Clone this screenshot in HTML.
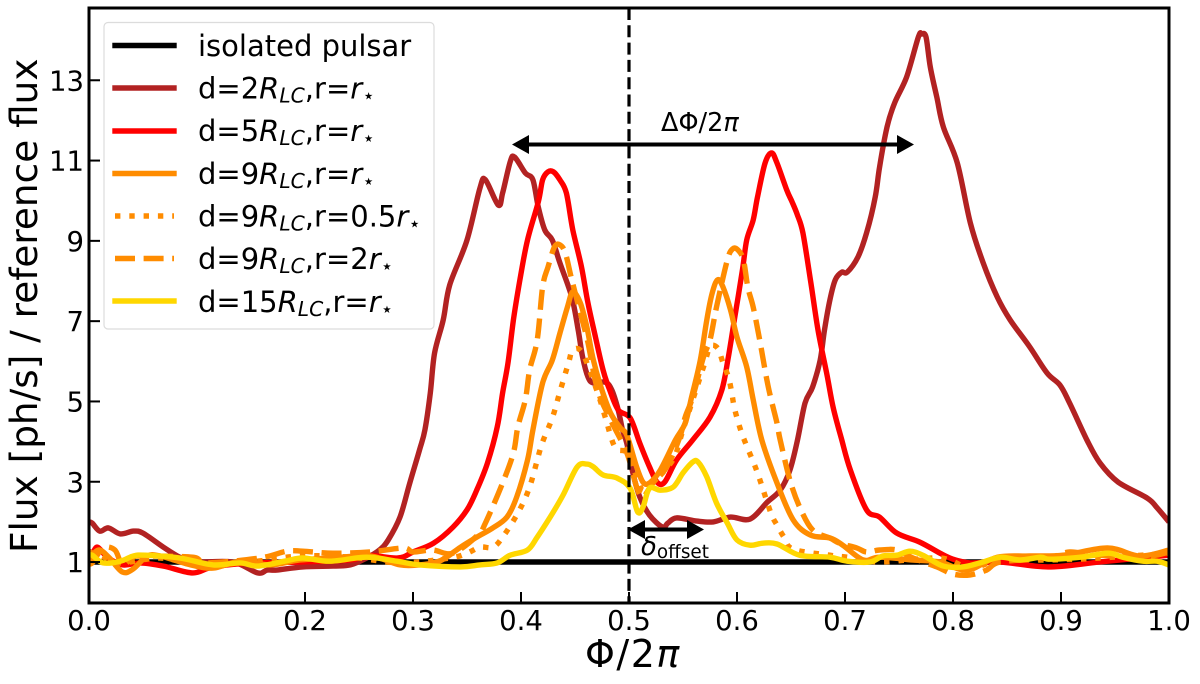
<!DOCTYPE html>
<html>
<head>
<meta charset="utf-8">
<title>Flux vs phase</title>
<style>
html,body{margin:0;padding:0;background:#fff;width:1200px;height:684px;overflow:hidden}
svg{display:block}
text{font-family:"DejaVu Sans","Liberation Sans",sans-serif;fill:#000}
.it{font-style:italic}
</style>
</head>
<body>
<svg id="chart" width="1200" height="684" viewBox="0 0 1200 684" xmlns="http://www.w3.org/2000/svg">
<defs><clipPath id="plot-clip"><rect x="89" y="8" width="1080" height="595"/></clipPath></defs>
<g id="series" clip-path="url(#plot-clip)"></g>
<g id="guides"></g>
<g id="ticks"></g>
<rect x="89" y="8" width="1080" height="595" fill="none" stroke="#000" stroke-width="3"/>

<g>
<line x1="525" y1="144.500" x2="900" y2="144.500" stroke="#000" stroke-width="4"/>
<polygon points="512,144.500 529,135 529,154" fill="#000"/>
<polygon points="914,144.500 897,135 897,154" fill="#000"/>
<text x="661" y="131" font-size="25.500">ΔΦ/2<tspan class="it">π</tspan></text>
</g>
<g>
<line x1="640" y1="529.500" x2="692" y2="529.500" stroke="#000" stroke-width="4"/>
<polygon points="628,529.500 645,520 645,539" fill="#000"/>
<polygon points="704,529.500 687,520 687,539" fill="#000"/>
<text x="641" y="555" font-size="26"><tspan class="it">δ</tspan><tspan font-size="18.400" dy="3">offset</tspan></text>
</g>

<text transform="translate(37,553) rotate(-90)" font-size="37.400">Flux [ph/s] / reference flux</text>
<text x="585" y="667" font-size="38" letter-spacing="1.500">Φ/2<tspan class="it">π</tspan></text>

<g>
<rect x="104" y="22.500" width="330" height="306.500" rx="4" ry="4" fill="#fff" fill-opacity="0.8" stroke="#dcdcdc" stroke-width="1.200"/>
<g>
<line x1="115" y1="45.500" x2="174" y2="45.500" stroke="#000" stroke-width="5.400" stroke-linecap="square"/>
<text x="198" y="56" font-size="29">isolated pulsar</text>
</g>
<g>
<line x1="115" y1="88" x2="174" y2="88" stroke="#b22222" stroke-width="5.400" stroke-linecap="square"/>
<text x="198" y="98.500" font-size="29">d=2<tspan class="it">R</tspan><tspan class="it" font-size="20.300" dy="4">LC</tspan><tspan dy="-4">,r=</tspan><tspan class="it">r</tspan><tspan font-size="20.300" dy="4">⋆</tspan></text>
</g>
<g>
<line x1="115" y1="131" x2="174" y2="131" stroke="#ff0000" stroke-width="5.400" stroke-linecap="square"/>
<text x="198" y="141" font-size="29">d=5<tspan class="it">R</tspan><tspan class="it" font-size="20.300" dy="4">LC</tspan><tspan dy="-4">,r=</tspan><tspan class="it">r</tspan><tspan font-size="20.300" dy="4">⋆</tspan></text>
</g>
<g>
<line x1="115" y1="173.500" x2="174" y2="173.500" stroke="#ff8c00" stroke-width="5.400" stroke-linecap="square"/>
<text x="198" y="184" font-size="29">d=9<tspan class="it">R</tspan><tspan class="it" font-size="20.300" dy="4">LC</tspan><tspan dy="-4">,r=</tspan><tspan class="it">r</tspan><tspan font-size="20.300" dy="4">⋆</tspan></text>
</g>
<g>
<line x1="115" y1="216" x2="174" y2="216" stroke="#ff8c00" stroke-width="5.400" stroke-dasharray="5.400 8.900"/>
<text x="198" y="226.500" font-size="29">d=9<tspan class="it">R</tspan><tspan class="it" font-size="20.300" dy="4">LC</tspan><tspan dy="-4">,r=0.5</tspan><tspan class="it">r</tspan><tspan font-size="20.300" dy="4">⋆</tspan></text>
</g>
<g>
<line x1="115" y1="258.500" x2="174" y2="258.500" stroke="#ff8c00" stroke-width="5.400" stroke-dasharray="20 8.600"/>
<text x="198" y="269" font-size="29">d=9<tspan class="it">R</tspan><tspan class="it" font-size="20.300" dy="4">LC</tspan><tspan dy="-4">,r=2</tspan><tspan class="it">r</tspan><tspan font-size="20.300" dy="4">⋆</tspan></text>
</g>
<g>
<line x1="115" y1="301" x2="174" y2="301" stroke="#ffd700" stroke-width="5.400" stroke-linecap="square"/>
<text x="198" y="312" font-size="29">d=15<tspan class="it">R</tspan><tspan class="it" font-size="20.300" dy="4">LC</tspan><tspan dy="-4">,r=</tspan><tspan class="it">r</tspan><tspan font-size="20.300" dy="4">⋆</tspan></text>
</g>
</g>
</svg>
<script>
const xTickValues = [0, 0.2, 0.3, 0.4, 0.5, 0.6, 0.7, 0.8, 0.9, 1.0];
const xTickLabels = ["0.0", "0.2", "0.3", "0.4", "0.5", "0.6", "0.7", "0.8", "0.9", "1.0"];
const yTickValues = [1, 3, 5, 7, 9, 11, 13];
const yTickLabels = ["1", "3", "5", "7", "9", "11", "13"];
const xDomain = [0, 1];
const yDomain = [-0.02, 14.8];
const referencePhase = [0.5];

const isolatedPhase = [0, 1];
const isolatedFlux = [1, 1];

const d2Phase = [0,.003,.01,.018,.029,.041,.05,.069,.084,.096,.133,.156,.165,.174,.198,.226,.242,.257,.269,.277,.288,.297,.306,.311,.316,.32,.328,.334,.35,.362,.367,.379,.383,.39,.394,.404,.411,.416,.422,.429,.436,.447,.453,.457,.462,.467,.478,.484,.49,.494,.498,.504,.51,.519,.531,.536,.544,.563,.578,.594,.612,.628,.64,.649,.656,.663,.67,.677,.681,.686,.691,.697,.702,.712,.72,.728,.732,.739,.746,.757,.768,.771,.775,.779,.785,.791,.804,.816,.828,.841,.853,.871,.887,.899,.908,.924,.936,.953,.98,.989,1];
const d2Flux = [2.0,1.97,1.77,1.85,1.70,1.77,1.72,1.37,1.12,1.0,1.0,.73,.8,.8,.88,.9,.93,1.1,1.3,1.55,2.12,2.97,3.79,4.29,5.21,6.21,7.03,7.9,9.02,10.32,10.52,9.89,10.19,10.97,11.09,10.69,10.52,9.84,9.27,9.02,8.45,7.6,6.78,6.11,5.61,5.46,5.48,5.29,4.79,4.29,3.96,3.17,2.62,2.17,1.87,1.97,2.1,2.02,2,2.12,2.07,2.49,2.79,3.29,4.04,4.96,5.36,6.03,6.78,7.53,8.03,8.22,8.22,8.6,9.2,10.09,10.84,11.84,12.44,13.08,14.08,14.15,14.08,13.33,12.58,11.84,10.94,9.45,8.45,7.6,7.03,6.36,5.71,5.41,4.96,4.04,3.47,2.99,2.59,2.35,2.0];

const d5Phase = [0,.003,.008,.017,.031,.047,.069,.096,.115,.152,.195,.242,.257,.286,.3,.319,.337,.35,.359,.369,.378,.383,.388,.393,.399,.406,.416,.42,.425,.43,.436,.442,.448,.456,.462,.469,.476,.482,.49,.501,.51,.519,.526,.533,.544,.559,.575,.586,.592,.598,.605,.609,.615,.619,.626,.632,.637,.646,.651,.656,.661,.668,.675,.683,.689,.697,.705,.72,.732,.748,.769,.788,.8,.816,.844,.888,.936,1];
const d5Flux = [1.27,1.22,1.37,1.12,.93,.98,.9,.73,.88,.98,1,1.05,1.17,1.1,1.25,1.47,1.87,2.3,2.79,3.47,4.36,5.21,5.96,7.03,8.03,9.02,9.97,10.52,10.72,10.72,10.52,10.19,9.27,8.35,7.45,6.6,5.78,5.29,4.79,4.59,3.96,3.37,2.99,2.99,3.54,4.04,4.61,5.29,6.11,7.1,8.27,9.02,9.52,10.09,10.94,11.19,10.94,10.27,9.97,9.64,9.2,8.03,6.78,5.71,4.86,4.04,3.29,2.3,2.12,1.72,1.5,1.22,1.07,.98,1,.88,1,1.17];

const d9Phase = [0,.003,.01,.019,.031,.041,.054,.066,.094,.115,.14,.168,.195,.223,.26,.288,.306,.322,.331,.344,.359,.374,.387,.396,.406,.411,.42,.429,.436,.443,.448,.455,.461,.467,.475,.483,.492,.498,.507,.513,.519,.529,.543,.552,.558,.566,.572,.577,.582,.587,.594,.6,.609,.615,.623,.637,.652,.668,.686,.698,.717,.732,.763,.788,.813,.841,.871,.902,.943,.973,1];
const d9Flux = [1,1.17,1.3,1.1,.75,.83,1.15,1.15,.93,.85,1.02,.93,1.05,1.1,1.15,.93,.93,1,1.12,1.37,1.62,1.85,2.12,2.62,3.54,4.29,5.46,6.03,6.7,7.35,7.73,7.45,6.85,6.03,5.28,4.71,4.34,4.16,3.37,2.99,2.97,3.29,4.04,4.46,5.11,6.03,7.03,7.7,8.03,7.85,7.28,6.6,5.86,5.04,4.04,2.97,2.05,1.67,1.6,1.42,1.05,1.12,1.05,1,.8,1.12,1.15,1.17,1.35,1.15,1.3];

const d9SmallPhase = [0,.01,.029,.066,.103,.149,.195,.242,.288,.334,.35,.362,.374,.383,.397,.408,.419,.429,.436,.444,.448,.457,.471,.478,.487,.498,.507,.513,.522,.535,.543,.55,.569,.575,.582,.587,.592,.595,.597,.6,.604,.609,.619,.631,.637,.644,.652,.686,.702,.732,.788,.816,.844,.89,.936,1];
const d9SmallFlux = [1.25,1.17,.98,1.1,.93,1,1.15,1.12,.98,1.1,1.22,1.37,1.37,1.62,2.22,2.87,3.91,4.59,5.24,5.96,6.28,6.2,5.21,4.61,3.86,3.72,3.12,2.79,2.97,3.34,3.67,4.29,5.86,6.36,6.33,5.96,5.61,5.24,4.91,4.59,4.24,3.89,3.22,2.25,1.92,1.6,1.32,1.17,1.12,1,1.1,.85,1.05,1.05,1.1,1.22];

const d9LargePhase = [0,.003,.013,.024,.031,.041,.05,.096,.109,.158,.183,.198,.226,.26,.291,.3,.318,.337,.36,.367,.383,.393,.397,.404,.408,.415,.42,.425,.431,.436,.441,.447,.455,.462,.471,.483,.498,.507,.513,.522,.535,.547,.552,.559,.569,.575,.581,.591,.596,.601,.606,.61,.615,.621,.629,.637,.64,.649,.658,.67,.686,.695,.711,.72,.732,.748,.763,.785,.8,.816,.831,.844,.887,.908,.933,.98,1];
const d9LargeFlux = [.98,.98,1.35,1.3,.93,1.12,1.15,1.12,.98,1.1,1.27,1.27,1.22,1.25,1.35,1.25,1.3,1.22,1.67,1.97,2.97,3.72,4.36,5.04,5.78,6.53,7.85,8.35,8.85,8.9,8.7,8.03,7.2,6.46,5.28,4.54,3.72,2.87,2.62,2.97,3.37,4.11,4.61,5.11,6.11,6.53,7.35,8.52,8.8,8.77,8.52,7.85,7.35,6.53,5.36,4.46,4.04,3.04,2.37,1.8,1.6,1.47,1.35,1.25,1.3,1.3,1.1,.88,.7,.68,.8,1,1.1,1.25,1.17,1.15,1.25];

const d15Phase = [0,.003,.013,.029,.041,.052,.084,.115,.14,.156,.181,.198,.223,.257,.285,.306,.344,.362,.378,.39,.406,.415,.427,.439,.452,.461,.467,.476,.489,.501,.508,.513,.519,.529,.541,.55,.559,.564,.572,.581,.591,.6,.612,.624,.637,.658,.686,.702,.723,.735,.748,.76,.772,.791,.809,.825,.844,.862,.881,.89,.918,.944,.957,.976,.989,1];
const d15Flux = [1.17,1.17,.98,1.02,1.15,1.17,1.1,.93,.98,.9,1.02,1.1,1.02,1.12,1.02,.93,.88,.93,.98,1.17,1.3,1.62,2.12,2.67,3.37,3.44,3.37,3.17,3.09,2.84,2.25,2.37,2.84,2.79,2.87,3.22,3.49,3.49,3.12,2.47,1.97,1.55,1.42,1.47,1.45,1.17,1.12,1.02,1,1.15,1.17,1.27,1.17,.9,.88,.98,1.12,1.05,1.12,1.07,1.12,1.22,1.12,1.02,1.02,.93];

const plotLeft = 89, plotRight = 1169, plotTop = 8, plotBottom = 603;
const NS = 'http://www.w3.org/2000/svg';

function xScale(v) {
  return plotLeft + (v - xDomain[0]) / (xDomain[1] - xDomain[0]) * (plotRight - plotLeft);
}
function yScale(v) {
  return plotBottom - (v - yDomain[0]) / (yDomain[1] - yDomain[0]) * (plotBottom - plotTop);
}
function smoothPath(xs, ys) {
  const p = xs.map(function (x, i) { return [xScale(x), yScale(ys[i])]; });
  let d = 'M' + p[0][0].toFixed(1) + ' ' + p[0][1].toFixed(1);
  for (let i = 0; i < p.length - 1; i++) {
    const a = p[Math.max(i - 1, 0)], b = p[i], c = p[i + 1], e = p[Math.min(i + 2, p.length - 1)];
    const c1x = b[0] + (c[0] - a[0]) / 6, c1y = b[1] + (c[1] - a[1]) / 6;
    const c2x = c[0] - (e[0] - b[0]) / 6, c2y = c[1] - (e[1] - b[1]) / 6;
    d += 'C' + c1x.toFixed(1) + ' ' + c1y.toFixed(1) + ' ' + c2x.toFixed(1) + ' ' + c2y.toFixed(1) + ' ' + c[0].toFixed(1) + ' ' + c[1].toFixed(1);
  }
  return d;
}
function drawSeries(name, xs, ys, color, dash) {
  const el = document.createElementNS(NS, 'path');
  
  
  el.setAttribute('d', smoothPath(xs, ys));
  el.setAttribute('fill', 'none');
  el.setAttribute('stroke', color);
  el.setAttribute('stroke-width', '5.4');
  el.setAttribute('stroke-linejoin', 'round');
  if (dash) el.setAttribute('stroke-dasharray', dash);
  document.getElementById('series').appendChild(el);
}

drawSeries('series-isolated-pulsar', isolatedPhase, isolatedFlux, '#000000');
drawSeries('series-d2', d2Phase, d2Flux, '#b22222');
drawSeries('series-d5', d5Phase, d5Flux, '#ff0000');
drawSeries('series-d9', d9Phase, d9Flux, '#ff8c00');
drawSeries('series-d9-small', d9SmallPhase, d9SmallFlux, '#ff8c00', '5.4 8.9');
drawSeries('series-d9-large', d9LargePhase, d9LargeFlux, '#ff8c00', '20 8.6');
drawSeries('series-d15', d15Phase, d15Flux, '#ffd700');

referencePhase.forEach(function (p) {
  const el = document.createElementNS(NS, 'line');
  
  
  el.setAttribute('x1', xScale(p));
  el.setAttribute('x2', xScale(p));
  el.setAttribute('y1', plotTop);
  el.setAttribute('y2', plotBottom);
  el.setAttribute('stroke', '#000');
  el.setAttribute('stroke-width', '3.2');
  el.setAttribute('stroke-dasharray', '12 5.3');
  document.getElementById('guides').appendChild(el);
});

const tickLayer = document.getElementById('ticks');
xTickValues.forEach(function (v, i) {
  const t = document.createElementNS(NS, 'line');
  
  
  t.setAttribute('x1', xScale(v));
  t.setAttribute('x2', xScale(v));
  t.setAttribute('y1', plotBottom);
  t.setAttribute('y2', plotBottom - 11);
  t.setAttribute('stroke', '#000');
  t.setAttribute('stroke-width', '2');
  tickLayer.appendChild(t);
  const l = document.createElementNS(NS, 'text');
  
  
  l.setAttribute('x', xScale(v));
  l.setAttribute('y', 630);
  l.setAttribute('text-anchor', 'middle');
  l.setAttribute('font-size', '27.5');
  l.textContent = xTickLabels[i];
  tickLayer.appendChild(l);
});
yTickValues.forEach(function (v, i) {
  const t = document.createElementNS(NS, 'line');
  
  
  t.setAttribute('x1', plotLeft);
  t.setAttribute('x2', plotLeft + 11);
  t.setAttribute('y1', yScale(v));
  t.setAttribute('y2', yScale(v));
  t.setAttribute('stroke', '#000');
  t.setAttribute('stroke-width', '2');
  tickLayer.appendChild(t);
  const l = document.createElementNS(NS, 'text');
  
  
  l.setAttribute('x', 84);
  l.setAttribute('y', yScale(v) + 10);
  l.setAttribute('text-anchor', 'end');
  l.setAttribute('font-size', '27.5');
  l.textContent = yTickLabels[i];
  tickLayer.appendChild(l);
});
</script>
</body>
</html>
